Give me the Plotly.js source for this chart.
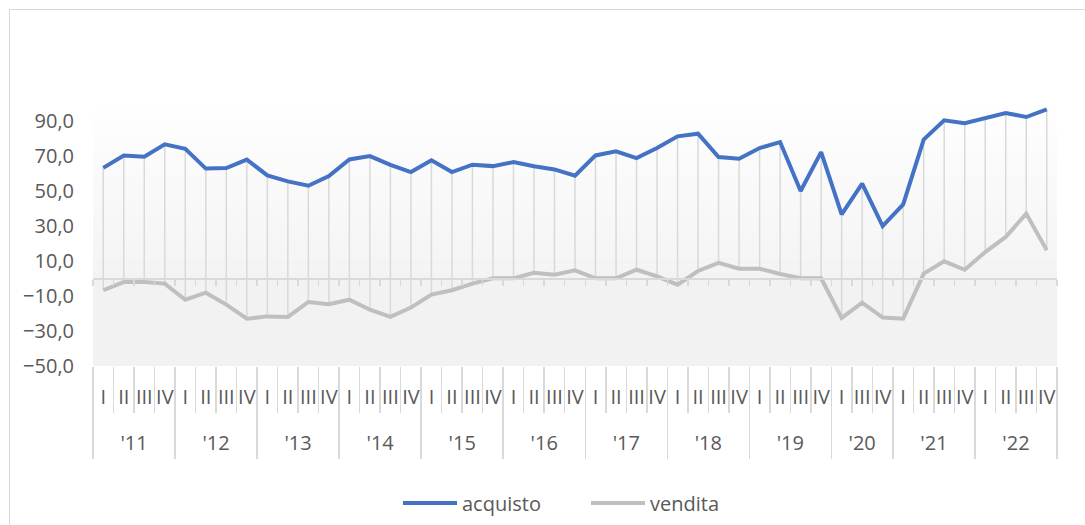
<!DOCTYPE html>
<html>
<head>
<meta charset="utf-8">
<script src="https://cdn.plot.ly/plotly-3.0.1.min.js"></script>
<style>
  html, body { margin:0; padding:0; width:1085px; height:525px; overflow:hidden; background:#ffffff; }
  #frame { position:absolute; left:9px; top:9px; width:1200px; height:700px; border:1.5px solid #d9d9d9; box-sizing:border-box; }
  #chart { position:absolute; left:0; top:0; width:1085px; height:525px; }
</style>
</head>
<body>
<div id="frame"></div>
<div id="chart"></div>
<script>
// ---- data ----
const years = ["'11","'12","'13","'14","'15","'16","'17","'18","'19","'20","'21","'22"];
const quartersPerYear = [
  ["I","II","III","IV"],["I","II","III","IV"],["I","II","III","IV"],["I","II","III","IV"],
  ["I","II","III","IV"],["I","II","III","IV"],["I","II","III","IV"],["I","II","III","IV"],
  ["I","II","III","IV"],["I","III","IV"],["I","II","III","IV"],["I","II","III","IV"]
];
const seriesNames = ["acquisto", "vendita"];
const acquisto = [
  63.0, 70.1, 69.3, 76.4,   // 2011
  73.9, 62.6, 62.9, 67.7,   // 2012
  58.7, 55.3, 52.8, 58.3,   // 2013
  67.8, 69.7, 64.7, 60.6,   // 2014
  67.3, 60.6, 64.8, 64.0,   // 2015
  66.3, 63.9, 62.1, 58.5,   // 2016
  70.1, 72.4, 68.6, 74.3,   // 2017
  81.0, 82.5, 69.2, 68.2,   // 2018
  74.3, 77.7, 49.8, 72.0,   // 2019
  36.5, 54.0, 29.8,         // 2020 (I, III, IV)
  42.2, 79.1, 90.1, 88.5,   // 2021
  91.4, 94.3, 92.0, 96.4    // 2022
];
const vendita = [
  -6.8, -2.1, -2.1, -3.0,
  -12.2, -8.2, -15.0, -23.0,
  -21.7, -22.0, -13.5, -14.8,
  -12.2, -17.9, -22.0, -16.7,
  -9.3, -6.8, -3.0, 0.0,
  0.0, 3.2, 2.1, 4.6,
  0.0, 0.0, 4.9, 1.1,
  -3.6, 4.2, 8.8, 5.5,
  5.5, 2.5, 0.1, 0.0,
  -22.6, -13.9, -22.4,
  -23.0, 2.7, 9.7, 4.9,
  15.0, 23.6, 36.9, 16.0
];
const yTicks = [-50, -30, -10, 10, 30, 50, 70, 90];
const yRange = [-50, 100];

// ---- derived ----
const quarterLabels = [].concat(...quartersPerYear);
const n = quarterLabels.length;
const xIdx = quarterLabels.map((_, i) => i);
const boundaries = [];
for (let i = 0; i <= n; i++) boundaries.push(i - 0.5);
const yearBounds = [-0.5];
const yearCenters = [];
let acc = 0;
quartersPerYear.forEach(q => { yearCenters.push(acc + (q.length - 1) / 2); acc += q.length; yearBounds.push(acc - 0.5); });

// high-low lines
const hlx = [], hly = [];
xIdx.forEach(i => {
  hlx.push(i, i, null);
  hly.push(Math.max(acquisto[i], vendita[i]), Math.min(acquisto[i], vendita[i]), null);
});

const FONT = "Open Sans, sans-serif";
const TXT = "#595959";
const LINE = "#d9d9d9";
const COLORS = ['#4472C4', '#BFBFBF'];

const dummy = ax => ({ x: [0], y: [null], xaxis: ax, yaxis: 'y', mode: 'lines', showlegend: false, hoverinfo: 'skip' });

const traces = [
  { x: hlx, y: hly, mode: 'lines', line: { color: LINE, width: 1.5 }, showlegend: false, hoverinfo: 'skip' },
  { x: xIdx, y: acquisto, name: seriesNames[0], mode: 'lines', line: { color: COLORS[0], width: 4 }, showlegend: false },
  { x: xIdx, y: vendita, name: seriesNames[1], mode: 'lines', line: { color: COLORS[1], width: 4 }, showlegend: false },
  dummy('x2'), dummy('x3'), dummy('x4'), dummy('x5')
];

// background bands
const shapes = [];
shapes.push({ type: 'rect', layer: 'below', xref: 'x', yref: 'y', x0: -0.5, x1: n - 0.5, y0: yRange[0], y1: 0,
  fillcolor: '#f2f2f2', line: { width: 0 } });
const nb = 25;
for (let b = 0; b < nb; b++) {
  const y0 = b * yRange[1] / nb, y1 = (b + 1) * yRange[1] / nb;
  const t = (b + 0.5) / nb;
  const c = Math.round(243 + (255 - 243) * t);
  shapes.push({ type: 'rect', layer: 'below', xref: 'x', yref: 'y', x0: -0.5, x1: n - 0.5, y0: y0, y1: y1 + 0.05,
    fillcolor: `rgb(${c},${c},${c})`, line: { width: 0 } });
}

// custom legend (paper coords: plot area spans x 93..1057 px, y 103..366 px)
const PX = px => (px - 93) / 964;
const PY = py => (366 - py) / 263;
const legendStarts = [403, 591];
const annotations = [];
seriesNames.forEach((nm, k) => {
  const x0 = legendStarts[k];
  shapes.push({ type: 'line', xref: 'paper', yref: 'paper', x0: PX(x0), x1: PX(x0 + 54), y0: PY(503), y1: PY(503),
    line: { color: COLORS[k], width: 4 } });
  annotations.push({ xref: 'paper', yref: 'paper', x: PX(x0 + 57), y: PY(503), xanchor: 'left', yanchor: 'middle',
    text: nm, showarrow: false, font: { family: FONT, size: 20, color: TXT } });
});

const xr = [-0.5, n - 0.5];
const layout = {
  width: 1085, height: 525,
  margin: { l: 93, r: 28, t: 103, b: 159 },
  paper_bgcolor: 'rgba(0,0,0,0)', plot_bgcolor: 'rgba(0,0,0,0)',
  separators: ',.',
  font: { family: FONT, color: TXT, size: 20 },
  showlegend: false,
  xaxis: { range: xr, tickmode: 'array', tickvals: xIdx, ticktext: quarterLabels, ticks: '',
    showline: false, showgrid: false, zeroline: false, ticklabelstandoff: 17,
    tickfont: { family: FONT, size: 20, color: TXT }, fixedrange: true },
  xaxis2: { overlaying: 'x', anchor: 'free', position: (0 - yRange[0]) / (yRange[1] - yRange[0]),
    range: xr, tickmode: 'array', tickvals: boundaries, showticklabels: false, ticks: 'outside',
    ticklen: 6, tickwidth: 1.5, tickcolor: LINE, showline: true, linecolor: LINE, linewidth: 1.5,
    showgrid: false, zeroline: false },
  xaxis3: { overlaying: 'x', anchor: 'y', range: xr, tickmode: 'array', tickvals: boundaries,
    showticklabels: false, ticks: 'outside', ticklen: 46, tickwidth: 1.5, tickcolor: LINE,
    showline: false, showgrid: false, zeroline: false },
  xaxis4: { overlaying: 'x', anchor: 'y', range: xr, tickmode: 'array', tickvals: yearBounds,
    showticklabels: false, ticks: 'outside', ticklen: 92, tickwidth: 1.5, tickcolor: LINE,
    showline: false, showgrid: false, zeroline: false },
  xaxis5: { overlaying: 'x', anchor: 'y', range: xr, tickmode: 'array', tickvals: yearCenters, ticktext: years,
    ticks: '', showline: false, showgrid: false, zeroline: false, ticklabelstandoff: 63,
    tickfont: { family: FONT, size: 20, color: TXT } },
  yaxis: { range: yRange, tickmode: 'array', tickvals: yTicks, tickformat: '.1f', showgrid: false,
    zeroline: false, showline: false, ticks: '', ticklabelstandoff: 18,
    tickfont: { family: FONT, size: 20, color: TXT } },
  shapes: shapes,
  annotations: annotations
};

Plotly.newPlot('chart', traces, layout, { staticPlot: true, displayModeBar: false });
</script>
</body>
</html>
